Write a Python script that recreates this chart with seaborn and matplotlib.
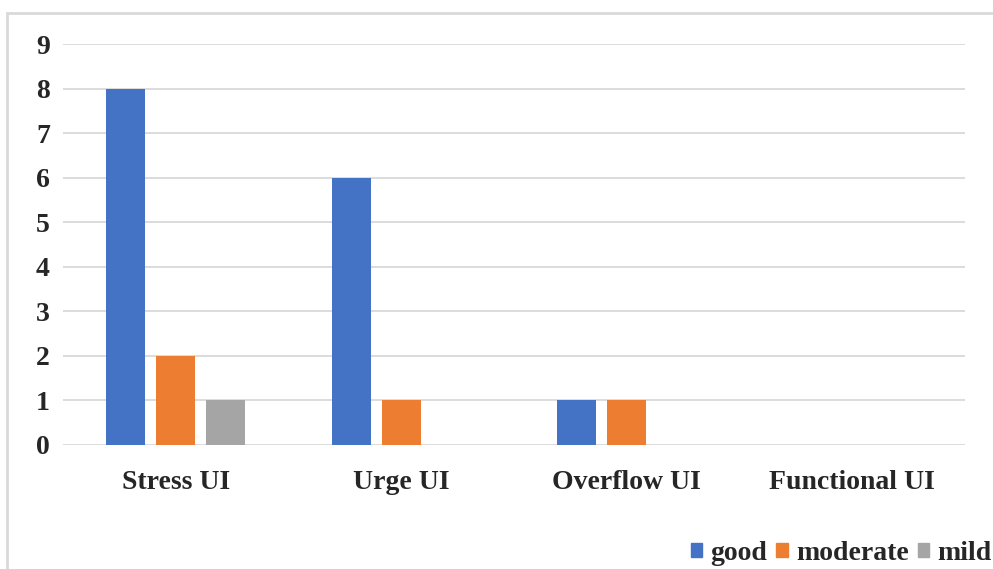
import matplotlib
matplotlib.use("Agg")
import matplotlib.pyplot as plt
from matplotlib.patches import Rectangle
import pandas as pd
import seaborn as sns

categories = ["Stress UI", "Urge UI", "Overflow UI", "Functional UI"]
levels = ["good", "moderate", "mild"]
good = [8, 6, 1, 0]
moderate = [2, 1, 1, 0]
mild = [1, 0, 0, 0]
y_ticks = list(range(0, 10))

colors = {"good": "#4472C4", "moderate": "#ED7D31", "mild": "#A5A5A5"}

rows = []
for lvl, vals in zip(levels, [good, moderate, mild]):
    for cat, v in zip(categories, vals):
        rows.append({"type": cat, "outcome": lvl, "count": v})
df = pd.DataFrame(rows)

sns.set_theme(style="white")
plt.rcParams["font.family"] = ["Liberation Serif", "DejaVu Serif"]
plt.rcParams["font.weight"] = "bold"

fig = plt.figure(figsize=(9.93, 5.69), dpi=100)
ax = fig.add_axes([63 / 993, 1 - 445 / 569, (965 - 63) / 993, (445 - 44) / 569])

sns.barplot(data=df, x="type", y="count", hue="outcome", hue_order=levels,
            order=categories, palette=colors, saturation=1, width=0.665,
            gap=0.22, linewidth=0, errorbar=None, ax=ax, legend=False)

ax.set_ylim(0, 9)
ax.set_yticks(y_ticks)
ax.set_xlim(-0.5, len(categories) - 0.5)
ax.yaxis.grid(True, color="#d9d9d9", linewidth=1.3)
ax.set_axisbelow(True)
for s in ax.spines.values():
    s.set_visible(False)
ax.set_xlabel("")
ax.set_ylabel("")
ax.tick_params(axis="y", length=0, pad=9.5, labelsize=20)
ax.tick_params(axis="x", length=0, pad=18, labelsize=20)
for t in ax.get_xticklabels() + ax.get_yticklabels():
    t.set_fontweight("bold")

# outer chart frame
fig.patches.append(Rectangle((7 / 993, -0.1), 1.2, 1.1 - 13 / 569,
                             transform=fig.transFigure, fill=False,
                             edgecolor="#d9d9d9", linewidth=2))

handles = [Rectangle((0, 0), 1, 1, color=colors[l]) for l in levels]
fig.legend(handles, levels, loc="lower right", bbox_to_anchor=(1.024, -0.038),
           ncol=3, frameon=False, handlelength=0.4, handleheight=0.4,
           handletextpad=0.3, columnspacing=0.34,
           prop={"family": "Liberation Serif", "weight": "bold", "size": 20})

fig.savefig("out.png", dpi=100)
